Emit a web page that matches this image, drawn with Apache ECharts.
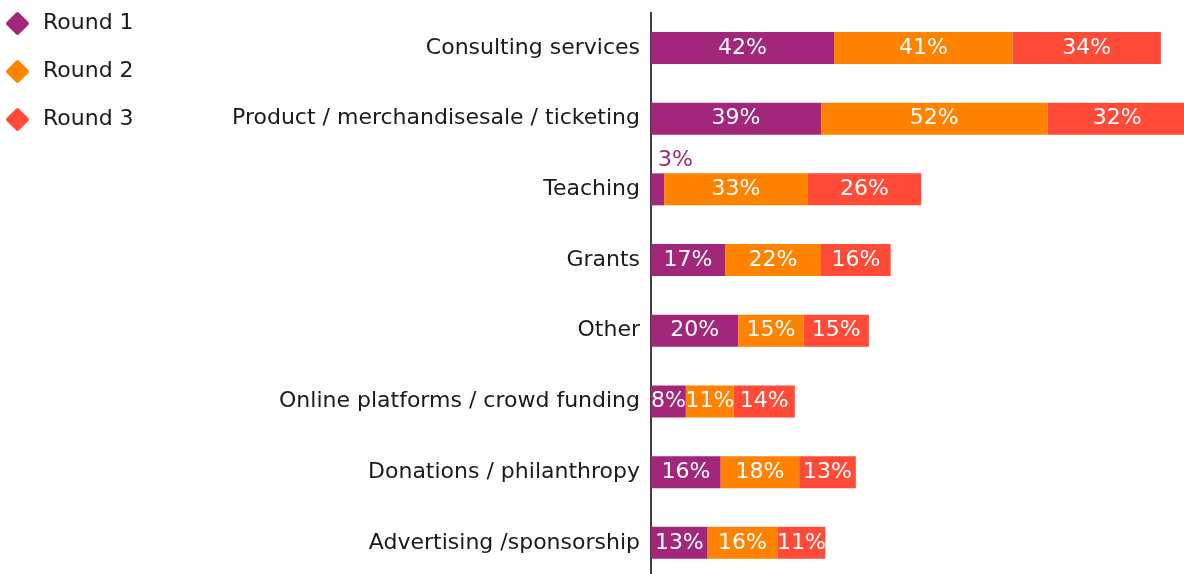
<!DOCTYPE html>
<html>
<head>
<meta charset="utf-8">
<script src="https://cdn.jsdelivr.net/npm/echarts@6/dist/echarts.min.js"></script>
<style>
  html, body { margin: 0; padding: 0; background: #fff; overflow: hidden; }
  #chart { width: 1184px; height: 580px; }
</style>
</head>
<body>
<div id="chart"></div>
<script>
// categories top to bottom
var categories = [
    'Consulting services',
    'Product / merchandisesale / ticketing',
    'Teaching',
    'Grants',
    'Other',
    'Online platforms / crowd funding',
    'Donations / philanthropy',
    'Advertising /sponsorship'
];
var round1 = [42, 39, 3, 17, 20, 8, 16, 13];
var round2 = [41, 52, 33, 22, 15, 11, 18, 16];
var round3 = [34, 32, 26, 16, 15, 14, 13, 11];

var colors = ['#a2267a', '#ff8200', '#ff4b37'];
var fontFam = '"DejaVu Sans", sans-serif';
// diamond with soft corners for the legend
var roundDiamond = 'path://M44,4 Q50,-2 56,4 L96,44 Q102,50 96,56 L56,96 Q50,102 44,96 L4,56 Q-2,50 4,44 Z';

function makeSeries(name, values, color) {
    return {
        name: name,
        type: 'bar',
        stack: 'all',
        barWidth: 32,
        clip: false,
        itemStyle: { color: color },
        label: {
            show: true,
            position: 'inside',
            color: '#fff',
            fontSize: 22,
            fontFamily: fontFam,
            formatter: '{c}%'
        },
        data: values.map(function (v) {
            // the 3% slice is too thin, its label sits above the bar
            if (v < 5) {
                return { value: v, label: { position: [7, -24], color: color } };
            }
            return v;
        })
    };
}

var chart = echarts.init(document.getElementById('chart'));
chart.setOption({
    animation: false,
    legend: {
        orient: 'vertical',
        left: 6,
        top: 12,
        padding: 0,
        itemGap: 25,
        icon: roundDiamond,
        itemWidth: 23,
        itemHeight: 23,
        textStyle: { fontSize: 22, fontFamily: fontFam, color: '#1a1a1a', padding: [0, 0, 0, 9] },
        data: ['Round 1', 'Round 2', 'Round 3']
    },
    grid: { left: 651, top: 12.6, right: 0, height: 565.6 },
    xAxis: {
        type: 'value',
        min: 0,
        max: 122.3,
        show: false
    },
    yAxis: {
        type: 'category',
        inverse: true,
        data: categories,
        axisLine: { lineStyle: { color: '#000', width: 1.5 } },
        axisTick: { length: 5, lineStyle: { color: '#000', width: 1.5 } },
        axisLabel: { fontSize: 22, fontFamily: fontFam, color: '#1a1a1a', margin: 11 }
    },
    series: [
        makeSeries('Round 1', round1, colors[0]),
        makeSeries('Round 2', round2, colors[1]),
        makeSeries('Round 3', round3, colors[2])
    ]
});
</script>
</body>
</html>
